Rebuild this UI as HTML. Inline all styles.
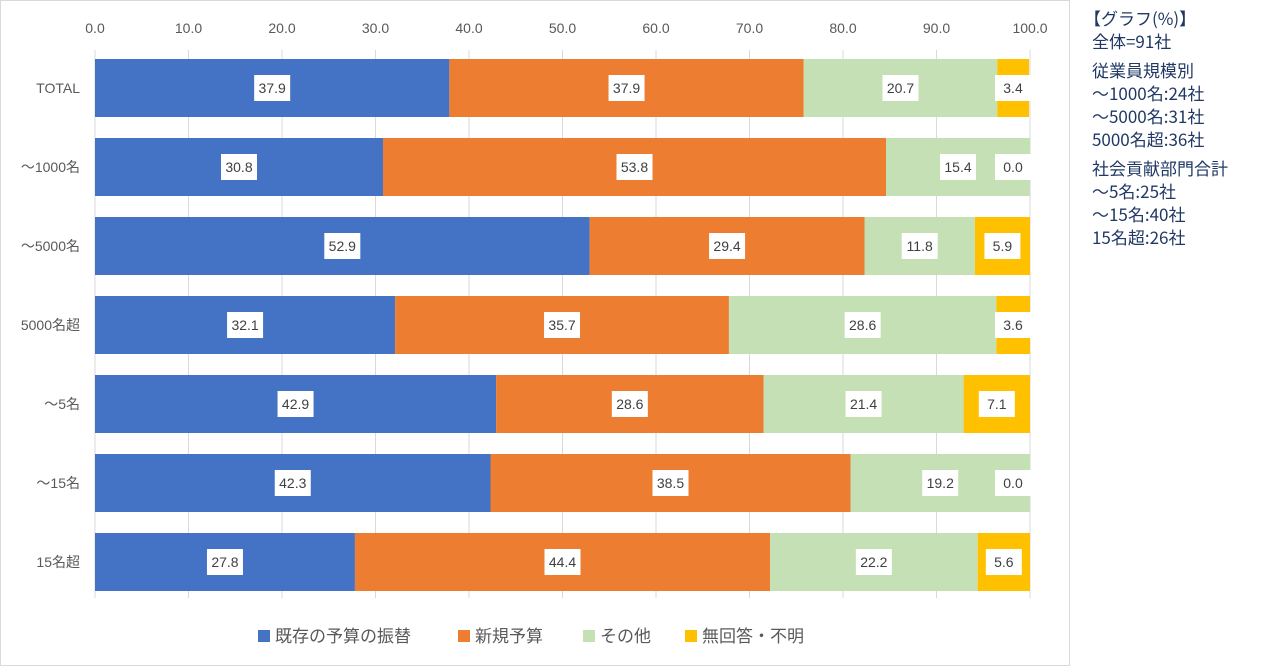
<!DOCTYPE html>
<html><head><meta charset="utf-8">
<style>
body{margin:0;background:#fff;width:1262px;height:669px;overflow:hidden;font-family:"Liberation Sans","Noto Sans CJK JP",sans-serif}
#frame{position:absolute;left:0;top:0;width:1070px;height:666px;border:1px solid #d9d9d9;box-sizing:border-box}
#side{position:absolute;left:1084px;top:6px;color:#203864;font-size:17px;line-height:23px;font-family:"Noto Sans CJK JP",sans-serif}
#side div{white-space:nowrap}
</style></head><body>
<div id="frame"></div>
<svg id="chart" width="1070" height="669" style="position:absolute;left:0;top:0"></svg>
<div id="side">
<div>【グラフ(%)】</div>
<div style="padding-left:8px">全体=91社</div>
<div style="padding-left:8px;margin-top:6px">従業員規模別</div>
<div style="padding-left:8px">～1000名:24社</div>
<div style="padding-left:8px">～5000名:31社</div>
<div style="padding-left:8px">5000名超:36社</div>
<div style="padding-left:8px;margin-top:6px">社会貢献部門合計</div>
<div style="padding-left:8px">～5名:25社</div>
<div style="padding-left:8px">～15名:40社</div>
<div style="padding-left:8px">15名超:26社</div>
</div>
<script>
const categories=["TOTAL","～1000名","～5000名","5000名超","～5名","～15名","15名超"];
const seriesNames=["既存の予算の振替","新規予算","その他","無回答・不明"];
const s1=[37.9,30.8,52.9,32.1,42.9,42.3,27.8];
const s2=[37.9,53.8,29.4,35.7,28.6,38.5,44.4];
const s3=[20.7,15.4,11.8,28.6,21.4,19.2,22.2];
const s4=[3.4,0.0,5.9,3.6,7.1,0.0,5.6];
const ticks=[0,10,20,30,40,50,60,70,80,90,100];
const colors=["#4472c4","#ed7d31","#c5e0b4","#ffc000"];
const svg=document.getElementById('chart');
const NS="http://www.w3.org/2000/svg";
const x=v=>95+v*9.35;
const y=i=>59+i*79;
const bh=58;
function mk(t,a){const e=document.createElementNS(NS,t);for(const k in a)e.setAttribute(k,a[k]);svg.appendChild(e);return e;}
ticks.forEach(t=>{
  const g=mk('line',{x1:x(t),x2:x(t),y1:50,y2:598,stroke:'#d9d9d9','stroke-width':1});
  
  
  const l=mk('text',{x:x(t),y:33,'text-anchor':'middle','font-size':14,fill:'#595959'});
  l.textContent=t.toFixed(1);
  
  
});
const all=[s1,s2,s3,s4];
categories.forEach((c,i)=>{
  const cl=mk('text',{x:80,y:y(i)+bh/2+5,'text-anchor':'end','font-size':14,fill:'#595959'});
  cl.textContent=c;
  
  
  let acc=0;
  all.forEach((s,k)=>{
    const v=s[i];
    const r=mk('rect',{x:x(acc),y:y(i),width:x(acc+v)-x(acc),height:bh,fill:colors[k]});
    
    
    const cx=k==3?Math.min(x(acc+v/2),1013):x(acc+v/2);
    const b=mk('rect',{x:cx-18,y:y(i)+bh/2-13,width:36,height:26,fill:'#fff'});
    
    
    const t=mk('text',{x:cx,y:y(i)+bh/2+5,'text-anchor':'middle','font-size':14,fill:'#404040'});
    t.textContent=v.toFixed(1);
    
    
    acc+=v;
  });
});
const lx=[258,458,583,685];
seriesNames.forEach((n,k)=>{
  const r=mk('rect',{x:lx[k],y:630,width:12,height:12,fill:colors[k]});
  
  
  const t=mk('text',{x:lx[k]+17,y:642,'font-size':17,fill:'#595959'});
  t.textContent=n;
  
  
});
</script>
</body></html>
